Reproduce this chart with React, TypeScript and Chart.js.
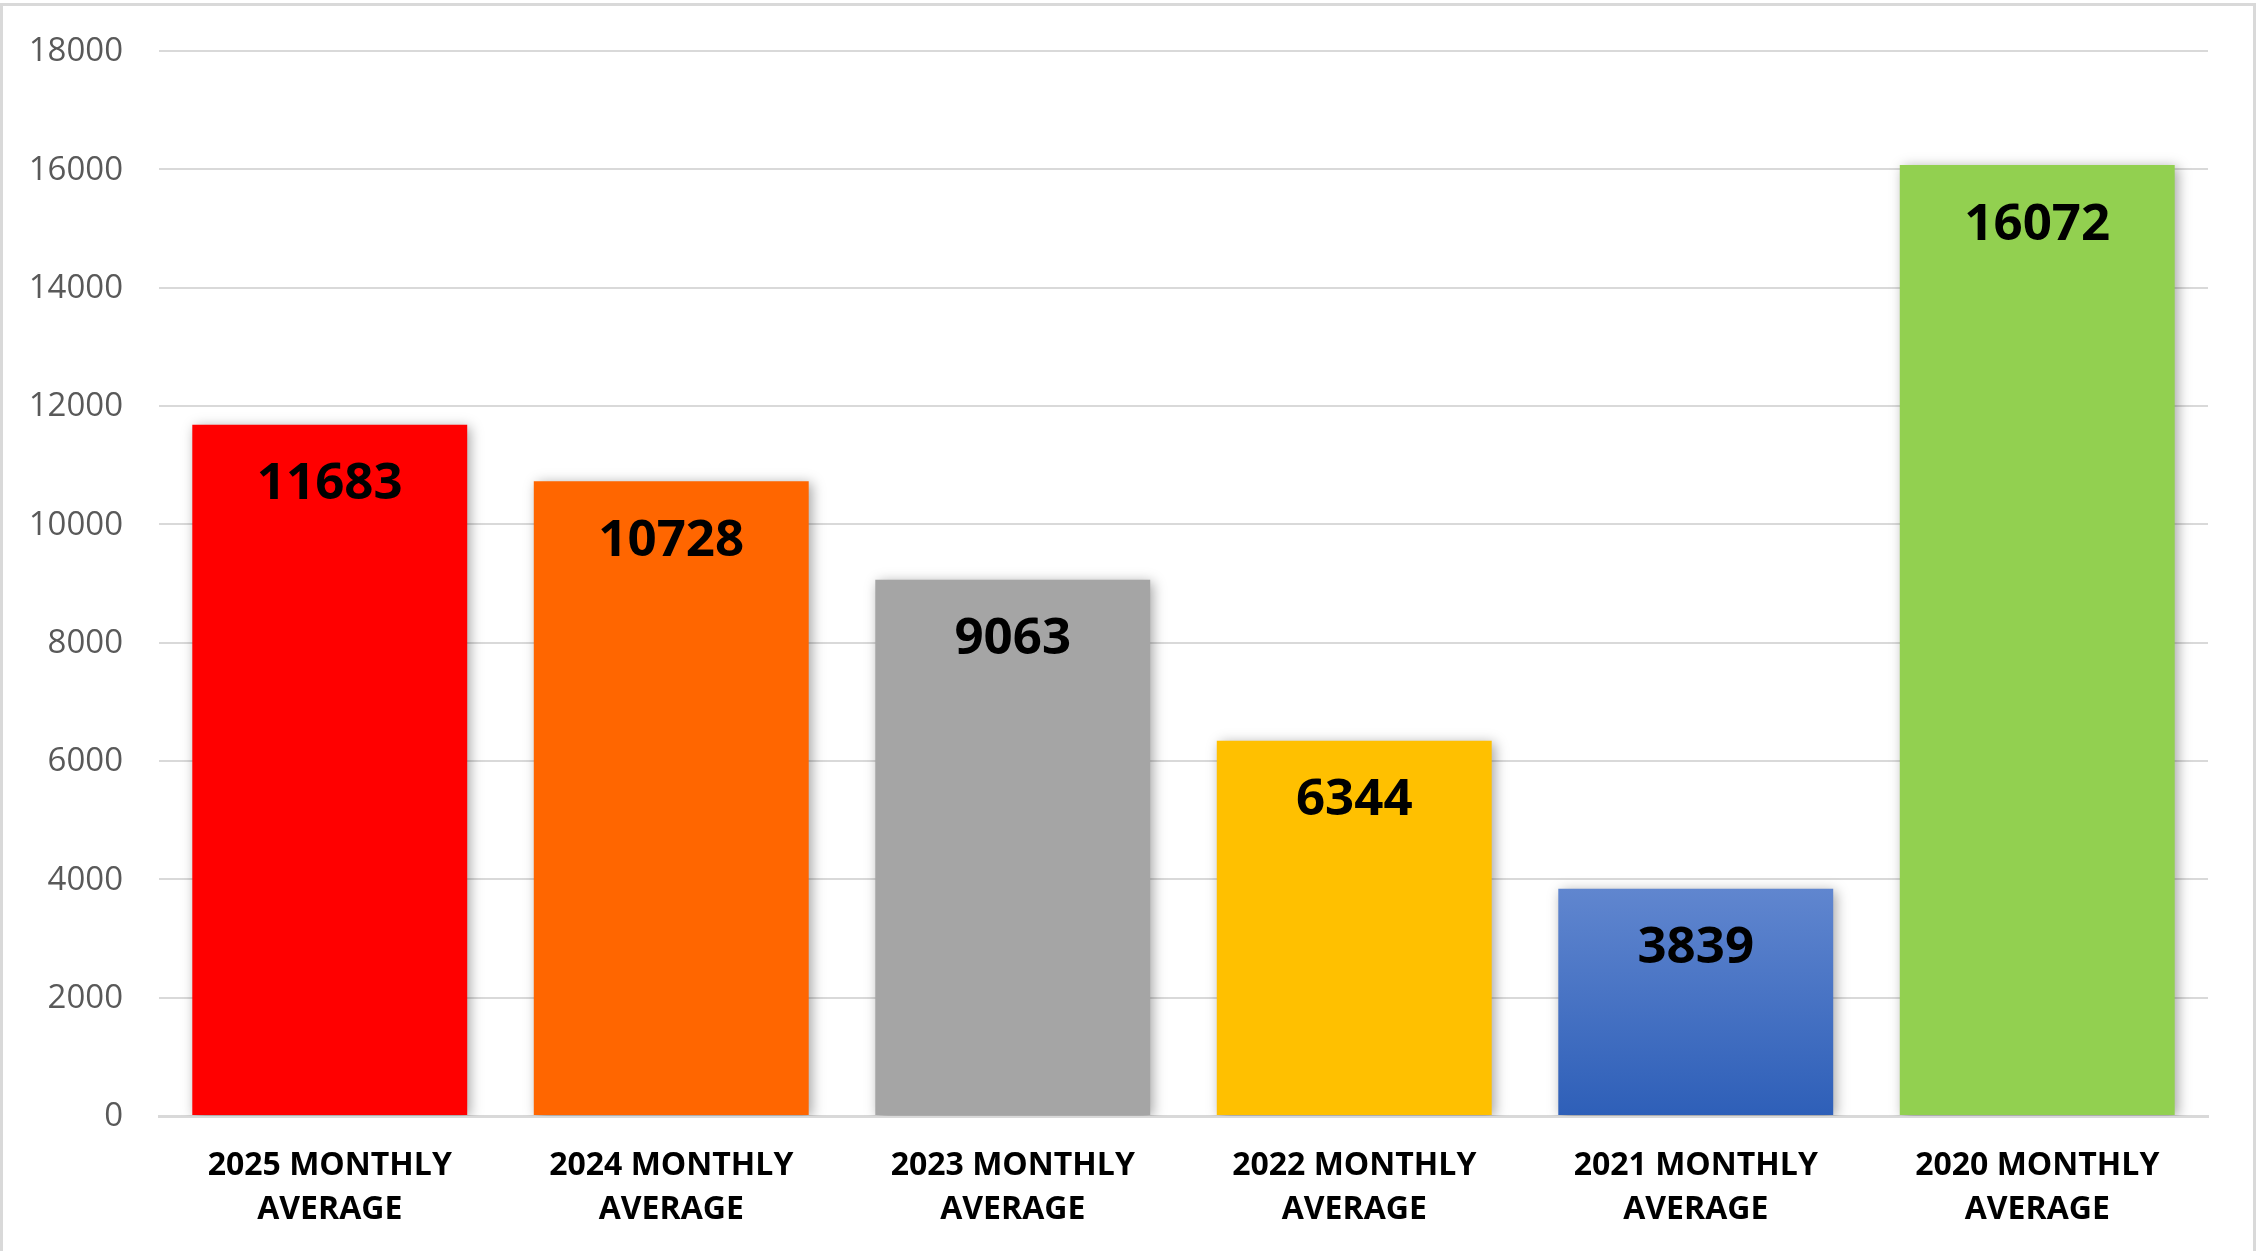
import React, { useEffect, useRef } from "react";
import { Chart, registerables } from "chart.js";

Chart.register(...registerables);

// ---- data ----
const categories: string[][] = [
  ["2025 MONTHLY", "AVERAGE"],
  ["2024 MONTHLY", "AVERAGE"],
  ["2023 MONTHLY", "AVERAGE"],
  ["2022 MONTHLY", "AVERAGE"],
  ["2021 MONTHLY", "AVERAGE"],
  ["2020 MONTHLY", "AVERAGE"],
];
const values: number[] = [11683, 10728, 9063, 6344, 3839, 16072];
const barColors: string[] = ["#FF0000", "#FF6600", "#A5A5A5", "#FFC000", "gradient", "#92D050"];
const gradientTop = "#6086CF";
const gradientBottom = "#2E5FB8";
const yMin = 0;
const yMax = 18000;
const yStep = 2000;

const W = 2260;
const H = 1251;

export default function App() {
  const ref = useRef<HTMLCanvasElement | null>(null);

  useEffect(() => {
    document.body.style.margin = "0";
    const canvas = ref.current;
    if (!canvas) return;

    const framePlugin = {
      id: "frame",
      beforeDraw(chart: any) {
        const c = chart.ctx;
        c.save();
        c.fillStyle = "#ffffff";
        c.fillRect(0, 0, chart.width, chart.height);
        c.strokeStyle = "#d9d9d9";
        c.lineWidth = 3;
        c.beginPath();
        c.moveTo(1.5, chart.height + 5);
        c.lineTo(1.5, 4.5);
        c.lineTo(2254.5, 4.5);
        c.lineTo(2254.5, chart.height + 5);
        c.stroke();
        c.restore();
      },
    };

    const labelPlugin = {
      id: "barLabels",
      beforeDatasetsDraw(chart: any) {
        const c = chart.ctx;
        c.save();
        c.shadowColor = "rgba(0,0,0,0.35)";
        c.shadowBlur = 12;
        c.shadowOffsetX = 3;
        c.shadowOffsetY = 2;
      },
      afterDatasetsDraw(chart: any) {
        const c = chart.ctx;
        c.restore();
        const meta = chart.getDatasetMeta(0);
        c.save();
        c.fillStyle = "#000000";
        c.font = 'bold 51px "Open Sans"';
        c.textAlign = "center";
        c.textBaseline = "middle";
        meta.data.forEach((bar: any, i: number) => {
          c.fillText(String(values[i]), bar.x, bar.y + 60);
        });
        c.restore();
      },
    };

    const chart = new Chart(canvas, {
      type: "bar",
      data: {
        labels: categories as any,
        datasets: [
          {
            data: values,
            backgroundColor: (ctx: any) => {
              const col = barColors[ctx.dataIndex];
              if (col !== "gradient") return col;
              const ch = ctx.chart;
              const ys = ch.scales && ch.scales.y;
              if (!ys || !ch.chartArea) return gradientBottom;
              const top = ys.getPixelForValue(values[ctx.dataIndex]);
              const bottom = ys.getPixelForValue(0);
              const g = ch.ctx.createLinearGradient(0, top, 0, bottom);
              g.addColorStop(0, gradientTop);
              g.addColorStop(1, gradientBottom);
              return g;
            },
            borderWidth: 0,
            barPercentage: 0.805,
            categoryPercentage: 1,
          },
        ],
      },
      options: {
        responsive: false,
        animation: false,
        devicePixelRatio: 1,
        layout: { padding: { top: 51, right: 52, left: 0, bottom: 0 } },
        plugins: {
          legend: { display: false },
          tooltip: { enabled: false },
          title: { display: false },
        },
        scales: {
          x: {
            grid: { display: false, drawTicks: false },
            border: { display: true, color: "#d9d9d9", width: 3 },
            ticks: {
              color: "#000000",
              padding: 28,
              font: { family: "Open Sans", size: 32, weight: "bold", lineHeight: 1.375 },
              maxRotation: 0,
              autoSkip: false,
            },
            afterFit(scale: any) {
              scale.height = 135;
              scale.paddingLeft = 0;
              scale.paddingRight = 0;
            },
          },
          y: {
            min: yMin,
            max: yMax,
            grid: { color: "#d9d9d9", lineWidth: 2, drawTicks: false },
            border: { display: false },
            ticks: {
              stepSize: yStep,
              color: "#595959",
              padding: 36,
              labelOffset: 1,
              font: { family: "Open Sans", size: 33 },
              callback: (v: any) => String(v),
            },
            afterFit(scale: any) {
              scale.width = 159;
              scale.paddingTop = 0;
              scale.paddingBottom = 0;
            },
          },
        },
      },
      plugins: [framePlugin, labelPlugin],
    });

    return () => chart.destroy();
  }, []);

  return (
    <div style={{ width: W, height: H, position: "relative" }}>
      <canvas ref={ref} width={W} height={H} style={{ display: "block" }} />
    </div>
  );
}
